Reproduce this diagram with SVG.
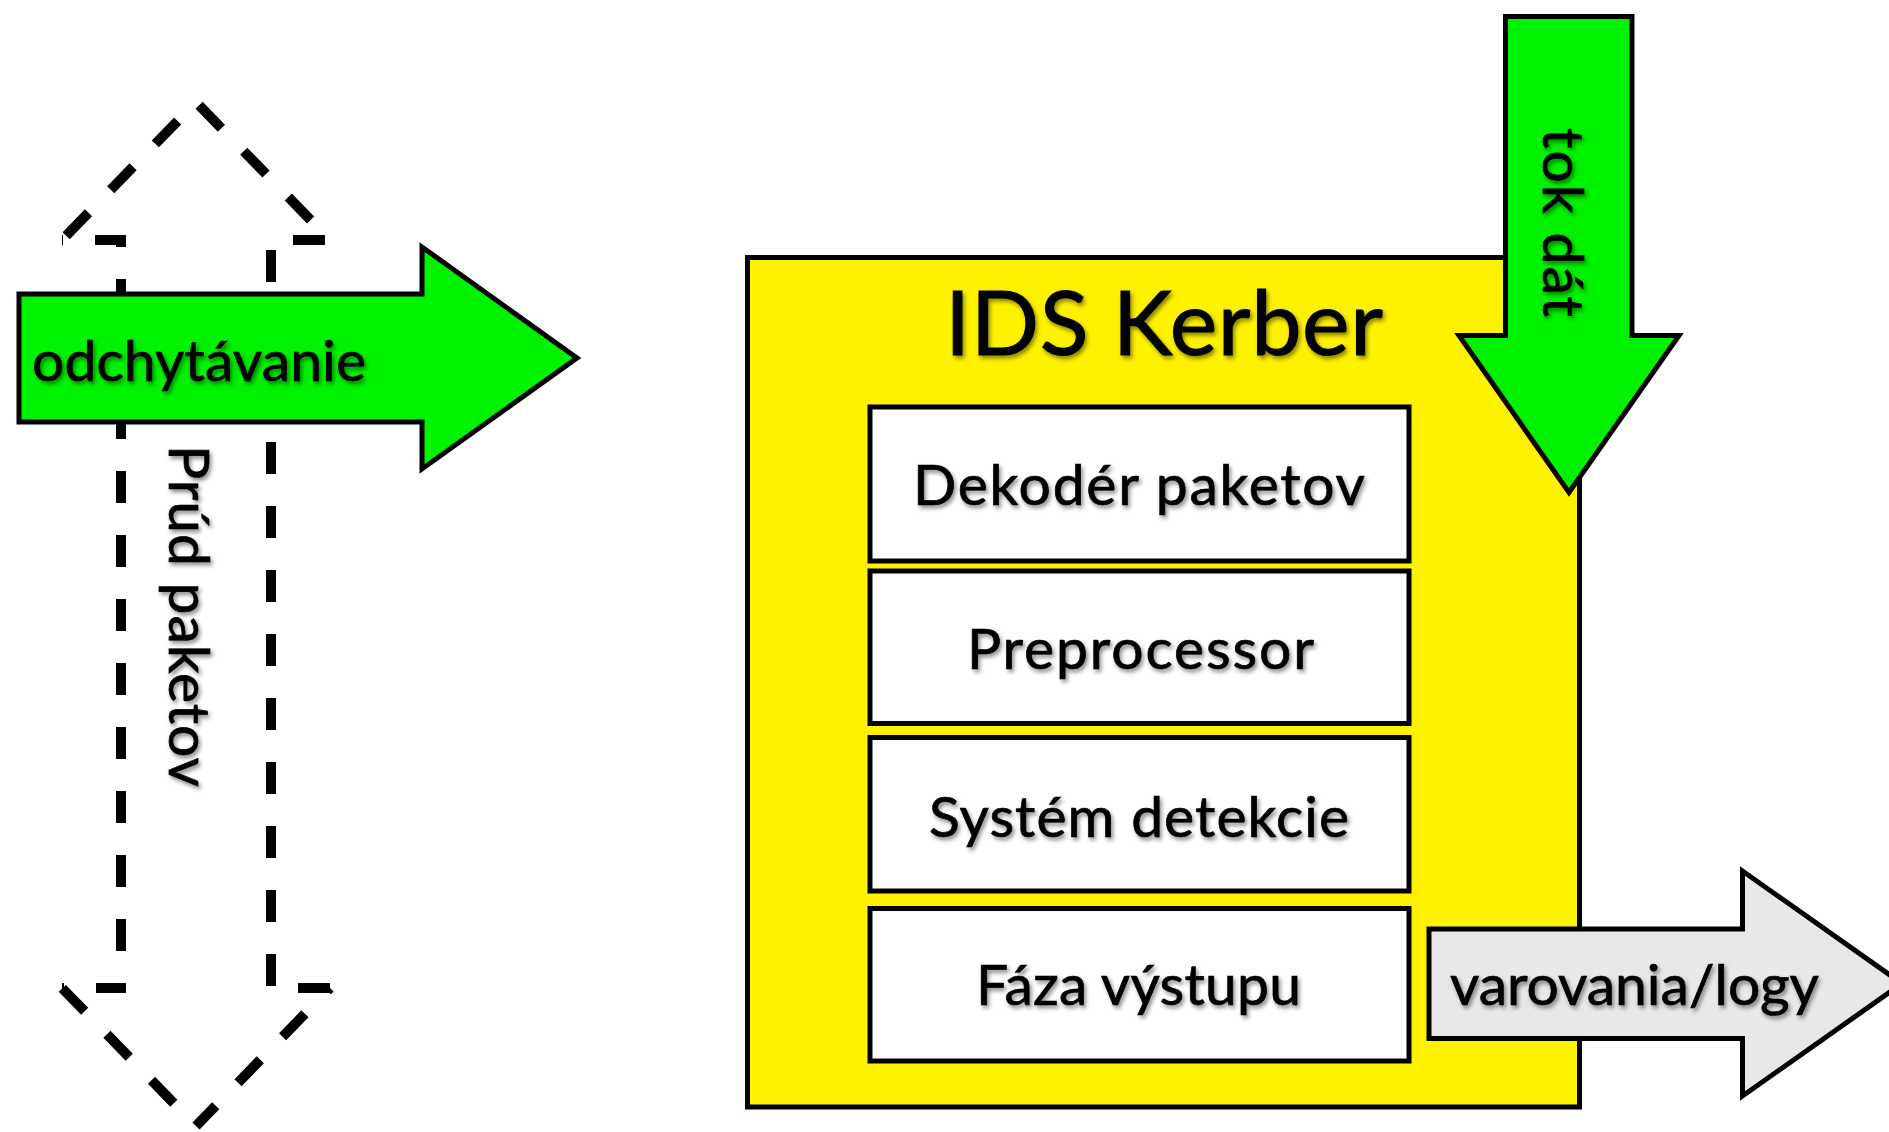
<svg xmlns="http://www.w3.org/2000/svg" width="1889" height="1132" viewBox="0 0 1889 1132">
<style>
  .lbl { font-family: Lato, "Noto Sans", sans-serif; font-size: 57px; fill: #000; stroke: #000; stroke-width: 0.7; }
  .title { font-family: Lato, "Noto Sans", sans-serif; font-size: 90px; fill: #000; stroke: #000; stroke-width: 1; }
  .box { fill: #fff; stroke: #000; stroke-width: 5; }
  .ybox { fill: #FFF200; stroke: #000; stroke-width: 5; }
  .garrow { fill: #00F200; stroke: #000; stroke-width: 5; stroke-linejoin: miter; stroke-miterlimit: 10; }
  .grarrow { fill: #E8E8E8; stroke: #000; stroke-width: 5; stroke-linejoin: miter; stroke-miterlimit: 10; }
  .dash { fill: none; stroke: #000; stroke-width: 10; stroke-dasharray: 32 32; stroke-linecap: butt; }
</style>
<defs>
  <filter id="ts" x="-10%" y="-30%" width="120%" height="160%">
    <feDropShadow dx="2" dy="3" stdDeviation="2" flood-color="#000" flood-opacity="0.45"/>
  </filter>
</defs>
<rect width="1889" height="1132" fill="#fff"/>

<g id="ids-kerber">
  <rect class="ybox" x="747.5" y="257.5" width="832" height="849.5"/>
  <text class="title" x="945" y="355" textLength="438" filter="url(#ts)">IDS Kerber</text>
</g>
<g id="dekoder">
  <rect class="box" x="870" y="407" width="539" height="154"/>
  <text class="lbl" x="913" y="505" textLength="452" filter="url(#ts)">Dekodér paketov</text>
</g>
<g id="preprocessor">
  <rect class="box" x="870" y="571" width="539" height="152.5"/>
  <text class="lbl" x="967" y="668.5" textLength="347" filter="url(#ts)">Preprocessor</text>
</g>
<g id="detekcia">
  <rect class="box" x="870" y="737.5" width="539" height="153.5"/>
  <text class="lbl" x="929" y="836.5" textLength="420" filter="url(#ts)">Systém detekcie</text>
</g>
<g id="vystup">
  <rect class="box" x="870" y="908.5" width="539" height="152.5"/>
  <text class="lbl" x="976" y="1005" textLength="325" filter="url(#ts)">Fáza výstupu</text>
</g>

<g id="connectors">
  <g id="prud-paketov">
    <path class="dash" d="M121 240 V988" stroke-dashoffset="25"/>
    <path class="dash" d="M271 240 V988" stroke-dashoffset="54"/>
    <path class="dash" d="M126 240 H62" stroke-dashoffset="1"/>
    <path class="dash" d="M62 240 L196 102" stroke-dashoffset="58"/>
    <path class="dash" d="M196 102 L330 240" stroke-dashoffset="59.5"/>
    <path class="dash" d="M330 240 H266" stroke-dashoffset="59"/>
    <path class="dash" d="M126 988 H62" stroke-dashoffset="2"/>
    <path class="dash" d="M62 988 L196 1126" stroke-dashoffset="63.5"/>
    <path class="dash" d="M330 988 L196 1126" stroke-dashoffset="28"/>
    <path class="dash" d="M266 988 H330" stroke-dashoffset="32"/>
    <g filter="url(#ts)">
      <text class="lbl" transform="translate(169,445) rotate(90)" x="0" y="0" textLength="342">Prúd paketov</text>
    </g>
  </g>
  <g id="odchytavanie">
    <polygon class="garrow" points="19,294 422,294 422,247 577,358 422,469 422,422 19,422"/>
    <text class="lbl" x="32" y="381" textLength="334" filter="url(#ts)">odchytávanie</text>
  </g>
  <g id="tok-dat">
    <polygon class="garrow" points="1505.5,16.5 1632,16.5 1632,335.5 1679,335.5 1569,492.5 1459,335.5 1505.5,335.5"/>
    <g filter="url(#ts)">
      <text class="lbl" transform="translate(1543,128) rotate(90)" x="0" y="0" textLength="189">tok dát</text>
    </g>
  </g>
  <g id="varovania">
    <polygon class="grarrow" points="1429,929 1742.5,929 1742.5,871 1902,983.5 1742.5,1096 1742.5,1038.5 1429,1038.5"/>
    <text class="lbl" x="1450" y="1005" textLength="369" filter="url(#ts)">varovania/logy</text>
  </g>
</g>
</svg>
